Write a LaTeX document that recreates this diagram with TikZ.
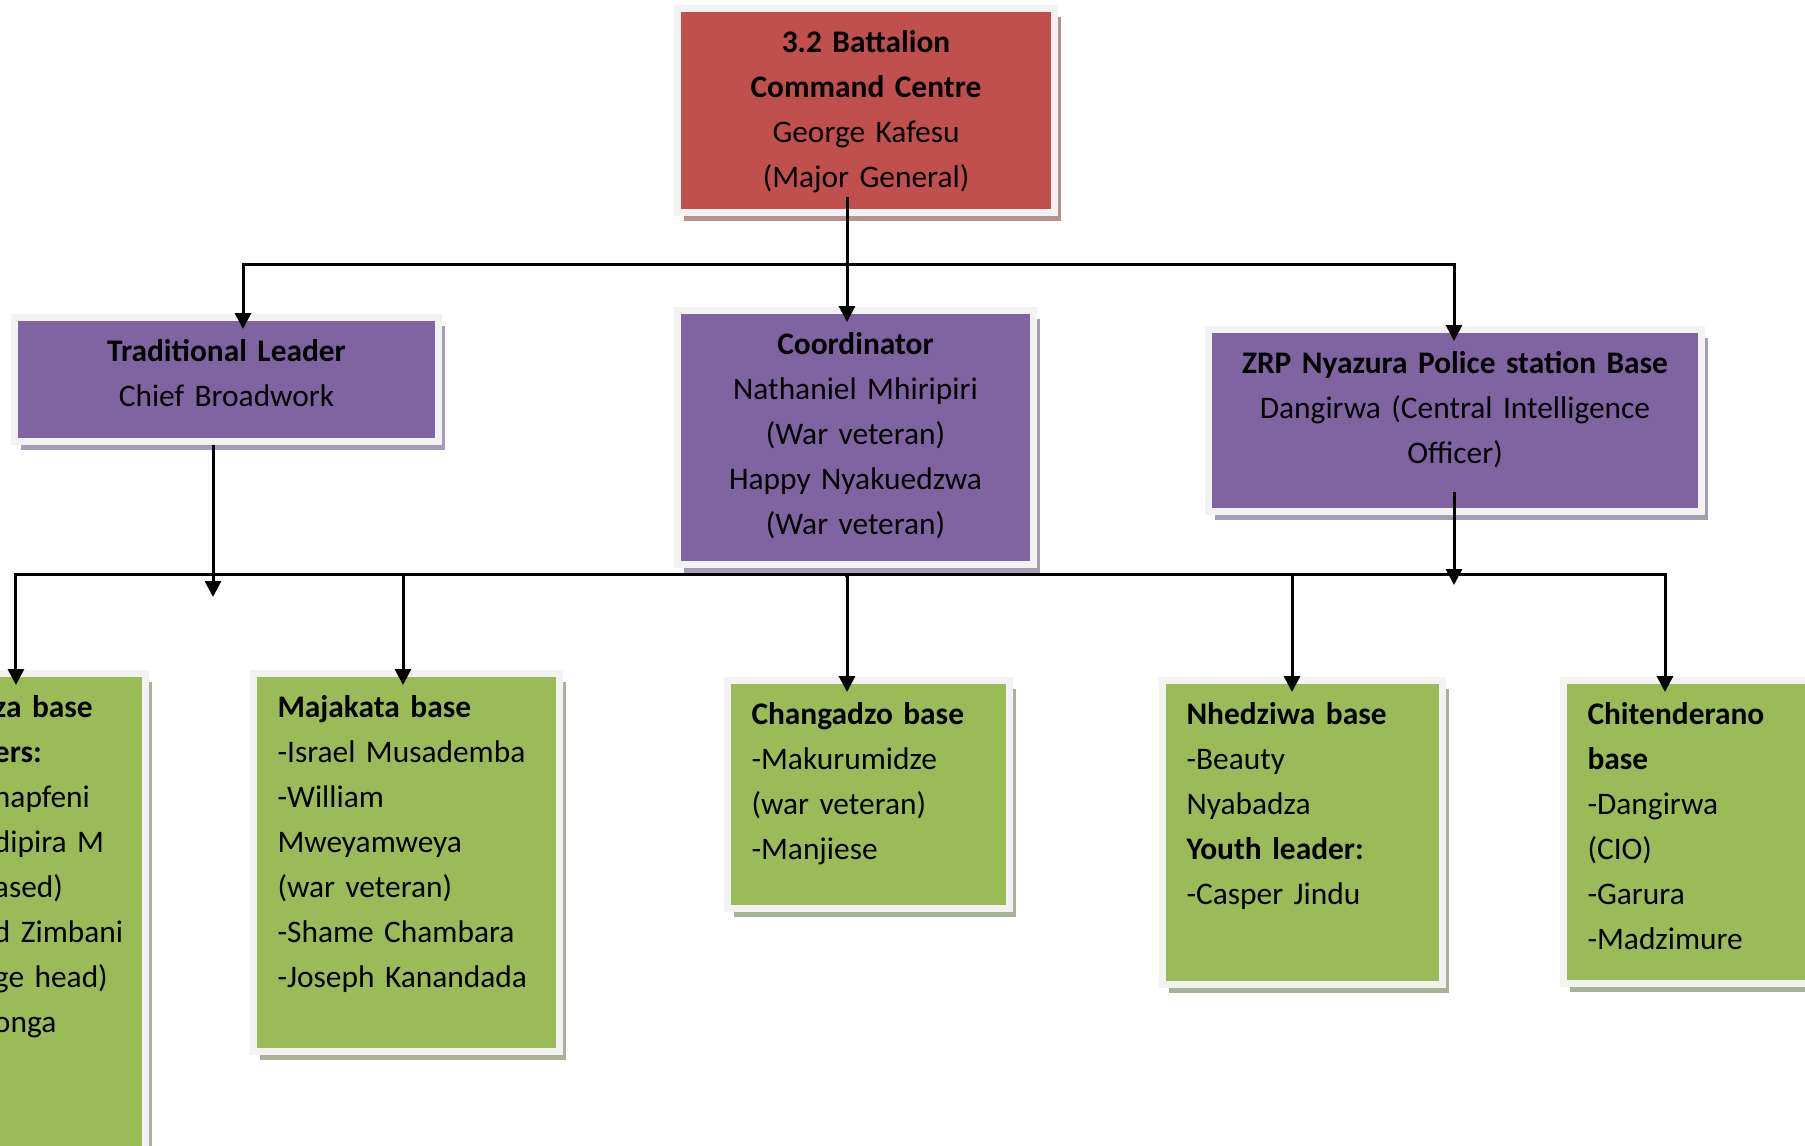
\documentclass[tikz,border=0pt]{standalone}
\usepackage{fontspec}
\setmainfont{Carlito}
\usepackage{tikz}
\usetikzlibrary{arrows.meta,shadows,backgrounds}

\definecolor{cmdred}{HTML}{C0504D}
\definecolor{leadpurple}{HTML}{8064A2}
\definecolor{basegreen}{HTML}{9BBB59}
\definecolor{rimgray}{HTML}{F2F2F2}
\definecolor{redshade}{HTML}{B59393}
\definecolor{purpleshade}{HTML}{A59DB4}
\definecolor{greenshade}{HTML}{A8B395}

\hyphenpenalty=10000
\exhyphenpenalty=10000

\begin{document}
\begin{tikzpicture}[x=0.5pt,y=-0.5pt,
  unitbox/.style={anchor=north west, draw=rimgray, line width=3.5pt, inner xsep=4pt, inner ysep=0pt,
    text height=21.75pt, align=center, font=\fontsize{15.7pt}{22.5pt}\selectfont},
  cmdbox/.style={unitbox, fill=cmdred, drop shadow={shadow xshift=3pt, shadow yshift=-4.25pt, opacity=1, fill=redshade}},
  leadbox/.style={unitbox, fill=leadpurple, drop shadow={shadow xshift=3pt, shadow yshift=-4.25pt, opacity=1, fill=purpleshade}},
  basebox/.style={unitbox, fill=basegreen, inner xsep=12pt, align=left, drop shadow={shadow xshift=3pt, shadow yshift=-4.25pt, opacity=1, fill=greenshade}},
  conn/.style={-{Triangle[width=8pt,length=8pt]}, line width=1.5pt, shorten >=-7.5pt}]

\useasboundingbox (0,0) rectangle (1805,1146);
\clip (0,0) rectangle (1805,1146);

% command and leaders
\node [cmdbox, text width=180.5pt, text depth=80.25pt] (cmd) at (674,5) {\textbf{3.2 Battalion}\\ \textbf{Command Centre}\\ George Kafesu\\ (Major General)};
\node [leadbox, text width=204pt, text depth=40.25pt] (trad) at (11,314) {\textbf{Traditional Leader}\\ Chief Broadwork};
\node [leadbox, text width=170pt, text depth=105.25pt] (coord) at (674,307) {\textbf{Coordinator}\\ Nathaniel Mhiripiri\\ (War veteran)\\ Happy Nyakuedzwa\\ (War veteran)};
\node [leadbox, text width=238.5pt, text depth=69.25pt] (zrp) at (1205,326) {\textbf{ZRP Nyazura Police station Base}\\ Dangirwa (Central Intelligence\\ Officer)};

% bases
\node [basebox, text width=63.75pt, text depth=241.5pt] (left) at (-33.5,670) {\textbf{za~base}\\ \textbf{ers:}\\ napfeni\\ dipira~M\\ ased)\\ d~Zimbani\\ ge~head)\\ onga};
\node [basebox, text width=129pt, text depth=167.25pt] (maj) at (250,670) {\textbf{Majakata base}\\ -Israel Musademba\\ -William\\ Mweyamweya\\ (war veteran)\\ -Shame Chambara\\ -Joseph Kanandada};
\node [basebox, text width=117pt, text depth=92.25pt] (chang) at (724,677) {\textbf{Changadzo base}\\ -Makurumidze\\ (war veteran)\\ -Manjiese};
\node [basebox, text width=116pt, text depth=130.25pt] (nhed) at (1159,677) {\textbf{Nhedziwa base}\\ -Beauty\\ Nyabadza\\ \textbf{Youth leader:}\\ -Casper Jindu};
\node [basebox, text width=126pt, text depth=129.75pt] (chit) at (1560,677) {\textbf{Chitenderano}\\ \textbf{base}\\ -Dangirwa\\ (CIO)\\ -Garura\\ -Madzimure};

\coordinate (hub1) at (847,264); \coordinate (hub2) at (847,574);
\coordinate (tradfoot) at (213,597); \coordinate (zrpfoot) at (1454,585); \coordinate (coordfoot) at (847,580);

\draw [conn] ([yshift=9.5pt]cmd.south -| hub1) -- (coord.north -| hub1);
\draw [conn] (hub1) -| ([xshift=8.25pt]trad.north);
\draw [conn] (hub1) -| (zrp.north -| zrpfoot);

\draw [conn, shorten >=0pt] (trad.south -| tradfoot) -- (tradfoot);
\draw [conn, shorten >=0pt] ([yshift=11.5pt]zrp.south -| zrpfoot) -- (zrpfoot);
\begin{scope}[on background layer]
\draw [conn, shorten >=0pt] ([yshift=12pt]coord.south -| hub2) -- (coordfoot);
\end{scope}

\draw [conn] (hub2) -| ([xshift=-20.9pt]left.north);
\draw [conn] (hub2) -| ([xshift=-1.75pt]maj.north);
\draw [conn] (hub2) -- (chang.north -| hub2);
\draw [conn] (hub2) -| ([xshift=-5.25pt]nhed.north);
\draw [conn] (hub2) -| ([xshift=-24.25pt]chit.north);

\end{tikzpicture}
\end{document}
